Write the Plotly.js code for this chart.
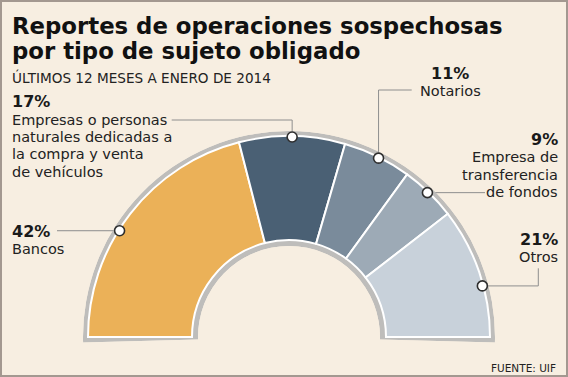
<!DOCTYPE html>
<html><head><meta charset="utf-8">
<script src="https://cdn.plot.ly/plotly-3.0.1.min.js"></script>
<style>html,body{margin:0;padding:0;background:#F7EEE1;}#chart{width:568px;height:377px;}</style>
</head><body><div id="chart"></div>
<script>
// ---- data ----
const categories = ["Bancos",
  "Empresas o personas naturales dedicadas a la compra y venta de vehículos",
  "Notarios", "Empresa de transferencia de fondos", "Otros"];
const values = [42, 17, 11, 9, 21];
const pctLabels = ["42%", "17%", "11%", "9%", "21%"];
const descLines = [
  ["Bancos"],
  ["Empresas o personas", "naturales dedicadas a", "la compra y venta", "de vehículos"],
  ["Notarios"],
  ["Empresa de", "transferencia", "de fondos"],
  ["Otros"]
];
const titleLines = ["Reportes de operaciones sospechosas", "por tipo de sujeto obligado"];
const subtitle = "ÚLTIMOS 12 MESES A ENERO DE 2014";
const source = "FUENTE: UIF";

// ---- style / geometry ----
const colors = ["#EBB158", "#4A6074", "#7A8B9B", "#9DAAB6", "#C8D1DA"];
const W = 568, H = 377, CX = 289, CY = 337, R_OUT = 206, R_HOLE = 91;
const C_IN = 97, C_OUT = 201, R_DOT = 200, EXT = 1.5;
const dotShift = [-5.7, 0, 0.5, -0.3, 4.1];
const FONT = "DejaVu Sans, Verdana, sans-serif";
// label layout: x, anchor, pct baseline, desc first baseline, line pitch
const labelPos = [
  {x: 11, anchor: "left", pb: 237, db: 254, pitch: 17.3},
  {x: 11, anchor: "left", pb: 107.5, db: 125, pitch: 17.25},
  {x: 450, anchor: "center", pb: 79, db: 96.2, pitch: 17.3},
  {x: 559, anchor: "right", pb: 145.5, db: 162, pitch: 17.6},
  {x: 559, anchor: "right", pb: 245, db: 262, pitch: 17.3}
];
// leader waypoints: ['h', x] horizontal to x, ['v', y] vertical to y
const leaders = [
  [["h", 57]],
  [["v", 120], ["h", 171.7]],
  [["v", 90], ["h", 411.7]],
  [["h", 485]],
  [["h", 538.3], ["v", 268.3]]
];

const total = values.reduce((a, b) => a + b, 0);
const k = 180 / total;
let cum = 0;
const mids = [], widths = [];
values.forEach(v => { mids.push((cum + v / 2) * k); widths.push(v * k); cum += v; });
const dotTheta = mids.map((m, i) => m + dotShift[i]);

const px = x => x / W, py = y => 1 - y / H;
const sinE = Math.sin(EXT * Math.PI / 180);

const traces = [
  {type: "barpolar", theta: [90], width: [180 + 2 * EXT], base: [R_HOLE], r: [R_OUT - R_HOLE],
   marker: {color: "#BEBDBB", line: {width: 0}}, hoverinfo: "skip", showlegend: false},
  {type: "barpolar", theta: mids, width: widths, base: values.map(() => C_IN),
   r: values.map(() => C_OUT - C_IN), text: categories,
   marker: {color: colors, line: {color: "#FFFFFF", width: 2}}, hoverinfo: "text", showlegend: false},
  {type: "scatterpolar", mode: "markers", theta: dotTheta, r: values.map(() => R_DOT),
   marker: {size: 10, color: "#FFFFFF", line: {color: "#2E2E2E", width: 1.6}},
   hoverinfo: "skip", showlegend: false, cliponaxis: false}
];

// leader shapes
const shapes = [];
dotTheta.forEach((t, i) => {
  const a = (180 - t) * Math.PI / 180;
  let x = CX + R_DOT * Math.cos(a), y = CY - R_DOT * Math.sin(a);
  let path = `M${px(x)},${py(y)}`;
  leaders[i].forEach(([d, v]) => {
    if (d === "h") x = v; else y = v;
    path += ` L${px(x)},${py(y)}`;
  });
  shapes.push({type: "path", xref: "paper", yref: "paper", path: path, layer: "below",
    line: {color: "#8E8E8E", width: 1}});
});
// frame
shapes.push({type: "rect", xref: "paper", yref: "paper", x0: px(1), x1: px(567), y0: py(376), y1: py(1),
  line: {color: "#A39890", width: 2}, layer: "above"});

// annotations
const annotations = [];
function txt(text, x, base, size, bold, anchor, color) {
  annotations.push({xref: "paper", yref: "paper", x: px(x), y: py(base - 0.346 * size),
    xanchor: anchor, yanchor: "middle", text: text, showarrow: false, borderpad: 0,
    font: {family: FONT, size: size, color: color || "#1E1E1E", weight: bold ? 700 : 400}});
}
txt(titleLines[0], 11, 34.3, 22.8, true, "left", "#111");
txt(titleLines[1], 11, 59, 22.8, true, "left", "#111");
txt(subtitle, 11, 82.7, 13.6, false, "left", "#222");
pctLabels.forEach((p, i) => {
  const L = labelPos[i];
  txt(p, L.x, L.pb, 16, true, L.anchor, "#1A1A1A");
  descLines[i].forEach((line, j) => txt(line, L.x, L.db + j * L.pitch, 14.5, false, L.anchor, "#222"));
});
txt(source, 557, 371.5, 10.5, false, "right", "#222");

const layout = {
  width: W, height: H, margin: {l: 0, r: 0, t: 0, b: 0},
  paper_bgcolor: "#F7EEE1", plot_bgcolor: "#F7EEE1", showlegend: false,
  polar: {
    domain: {x: [px(CX - R_OUT), px(CX + R_OUT)], y: [py(CY + R_OUT * sinE), py(CY - R_OUT)]},
    sector: [-EXT, 180 + EXT], hole: R_HOLE / R_OUT, bgcolor: "rgba(0,0,0,0)", barmode: "overlay",
    radialaxis: {range: [R_HOLE, R_OUT], visible: false, showgrid: false},
    angularaxis: {rotation: 180, direction: "clockwise", visible: false, showgrid: false}
  },
  shapes: shapes, annotations: annotations
};
Plotly.newPlot("chart", traces, layout, {displayModeBar: false, staticPlot: true});
</script></body></html>
